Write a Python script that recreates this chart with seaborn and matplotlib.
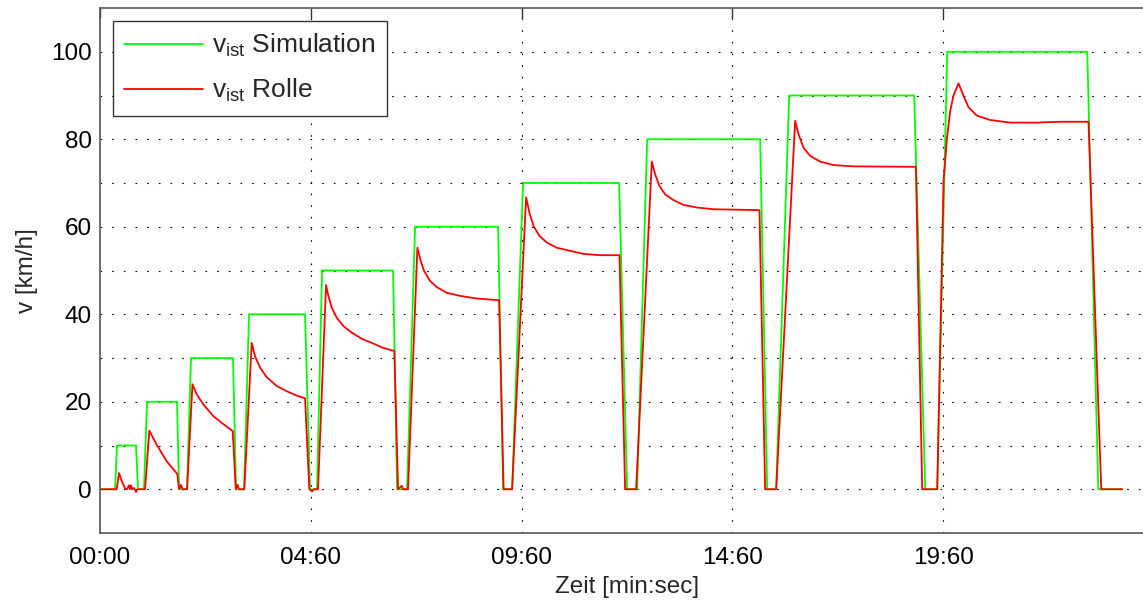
import numpy as np
import pandas as pd
import matplotlib
matplotlib.use("Agg")
import matplotlib.pyplot as plt
from matplotlib.ticker import MultipleLocator, FixedLocator, FixedFormatter
import seaborn as sns

# Speed demand from the simulation (time in s, speed in km/h)
sim_time = [0.0, 21.4, 24.2, 51.2, 54.1, 62.6, 66.9, 109.6, 112.5, 123.8, 129.5,
            189.3, 193.6, 205.0, 212.1, 291.8, 298.9, 308.9, 316.0, 417.1, 422.8,
            437.0, 448.4, 566.6, 573.7, 586.5, 602.1, 738.8, 750.2, 764.4, 778.7,
            939.5, 949.5, 962.3, 980.8, 1158.7, 1174.4, 1191.5, 1205.7, 1405.0,
            1420.7, 1454.8]
sim_speed = [0, 0, 10, 10, 0, 0, 20, 20, 0, 0, 30,
             30, 0, 0, 40, 40, 0, 0, 50, 50, 0,
             0, 60, 60, 0, 0, 70, 70, 0, 0, 80,
             80, 0, 0, 90, 90, 0, 0, 100, 100,
             0, 0]

# Speed measured on the roller test bench
roll_time = [0.0, 23.8, 27.0, 29.9, 32.7, 35.6, 38.4, 41.3, 42.7, 44.1, 45.6, 48.4,
             51.2, 53.4,
             64.1, 70.2, 80.6, 94.9, 110.0, 112.5, 115.3, 117.4,
             123.9, 131.6, 137.6, 147.1, 161.3, 175.5, 188.9, 193.2, 195.7, 197.9,
             205.4, 215.9, 220.6, 227.8, 237.3, 251.5, 265.8, 280.0, 291.8,
             297.9, 301.8, 304.6,
             310.3, 321.7, 325.0, 329.8, 336.9, 346.3, 358.3, 372.5, 389.0, 403.3,
             418.9, 424.2, 429.5, 431.3,
             438.4, 451.7, 456.4, 461.2, 469.8, 479.3, 493.5, 512.5, 536.2, 568.0,
             574.4,
             586.5, 606.4, 611.2, 616.9, 625.4, 635.9, 650.1, 669.0, 688.0, 711.8,
             739.3, 747.3,
             763.0, 785.3, 790.0, 796.2, 804.3, 816.1, 830.4, 849.4, 873.0, 938.5,
             946.6,
             962.3, 989.3, 994.0, 1001.1, 1010.7, 1024.9, 1043.9, 1072.3, 1161.2,
             1170.1,
             1191.5, 1200.5, 1205.2, 1210.0, 1214.7, 1221.8, 1229.0, 1236.1, 1248.0,
             1267.0, 1295.4, 1333.4, 1366.6, 1406.8, 1424.9, 1454.8]
roll_speed = [0, 0, 3.7, 2.4, 1.2, 0.2, 0, 0.9, 0, 0.9, 0, 0.3,
              -0.6, 0,
              0, 13.4, 10.2, 6.4, 3.5, 0, 1.0, 0,
              0, 24.0, 21.7, 19.4, 16.7, 14.9, 13.3, 0, 1.0, 0,
              0, 33.5, 30.4, 27.8, 25.6, 23.6, 22.4, 21.4, 20.8,
              0, -0.5, 0,
              0, 46.7, 44.2, 41.5, 39.2, 37.3, 35.8, 34.4, 33.3, 32.3,
              31.6, 0, 0.8, 0,
              0, 55.2, 52.2, 49.9, 47.6, 46.2, 44.9, 44.2, 43.6, 43.2,
              0,
              0, 66.7, 63.2, 60.2, 57.9, 56.4, 55.2, 54.5, 53.8, 53.5,
              53.5, 0,
              0, 74.9, 72.0, 69.3, 67.4, 66.1, 65.0, 64.4, 64.0, 63.8,
              0,
              0, 84.2, 81.2, 78.1, 76.2, 74.9, 74.1, 73.8, 73.7,
              0,
              0, 70.5, 80.0, 86.5, 90.0, 92.8, 89.9, 87.3, 85.4,
              84.4, 83.8, 83.8, 84.0, 84.0, 0, 0]

tick_seconds = [0, 300, 600, 900, 1200]
tick_labels = ["00:00", "04:60", "09:60", "14:60", "19:60"]
series_names = [r"$\mathregular{v_{ist}}$ Simulation", r"$\mathregular{v_{ist}}$ Rolle"]
series_colors = ["#00ff00", "#ff0000"]

sns.set_style("white")
plt.rcParams["font.family"] = ["Liberation Sans", "DejaVu Sans"]
plt.rcParams["mathtext.default"] = "regular"

df = pd.concat([
    pd.DataFrame({"t": sim_time, "v": sim_speed, "Signal": series_names[0]}),
    pd.DataFrame({"t": roll_time, "v": roll_speed, "Signal": series_names[1]}),
], ignore_index=True)

fig = plt.figure(figsize=(11.43, 6.03), dpi=100)
W, H = 1143, 603
ax = fig.add_axes([100 / W, 70 / H, 1054 / W, 525 / H])

sns.lineplot(data=df, x="t", y="v", hue="Signal", hue_order=series_names,
             palette=dict(zip(series_names, series_colors)), sort=False,
             estimator=None, linewidth=1.3, ax=ax, zorder=3)

ax.set_xlim(0, 1500)
ax.set_ylim(-10, 110)

# Dotted grid: vertical at labelled times, horizontal every 10 km/h
grid_kw = dict(color="black", linewidth=0.8, linestyle=(0, (1.5, 9)), zorder=1)
for xs in tick_seconds[1:]:
    ax.axvline(xs, **grid_kw)
for ys in range(0, 101, 10):
    ax.axhline(ys, **grid_kw)

ax.xaxis.set_major_locator(FixedLocator(tick_seconds))
ax.xaxis.set_major_formatter(FixedFormatter(tick_labels))
ax.xaxis.set_minor_locator(MultipleLocator(300 / 18))
ax.yaxis.set_major_locator(MultipleLocator(20))
ax.yaxis.set_minor_locator(MultipleLocator(2.5))

tick_col = "#333333"
ax.tick_params(axis="both", which="major", direction="in", length=7, width=1,
               color=tick_col, labelsize=17.5, labelcolor="black", pad=6,
               top=True, right=True)
ax.tick_params(axis="x", which="major", pad=10)
ax.tick_params(axis="both", which="minor", direction="in", length=2.2, width=1,
               color="#777777", top=False, right=False)

for side in ["left", "bottom", "top", "right"]:
    ax.spines[side].set_color("#555555")
    ax.spines[side].set_linewidth(1.2)
    ax.spines[side].set_visible(True)

ax.set_xlabel("Zeit [min:sec]", fontsize=17.5, labelpad=5)
ax.set_ylabel("v [km/h]", fontsize=17.5, labelpad=9)

handles, labels = ax.get_legend_handles_labels()
leg = ax.legend(handles, labels, loc="upper left",
                bbox_to_anchor=(13 / 1054, 1 - 13 / 525), borderaxespad=0,
                fontsize=19, handlelength=3.0, handletextpad=0.35,
                labelspacing=0.68, borderpad=0.42, frameon=True,
                fancybox=False, framealpha=1)
leg.get_frame().set_edgecolor("#333333")
leg.get_frame().set_linewidth(1.0)
for line in leg.get_lines():
    line.set_linewidth(1.3)

fig.savefig("out.png", dpi=100)
